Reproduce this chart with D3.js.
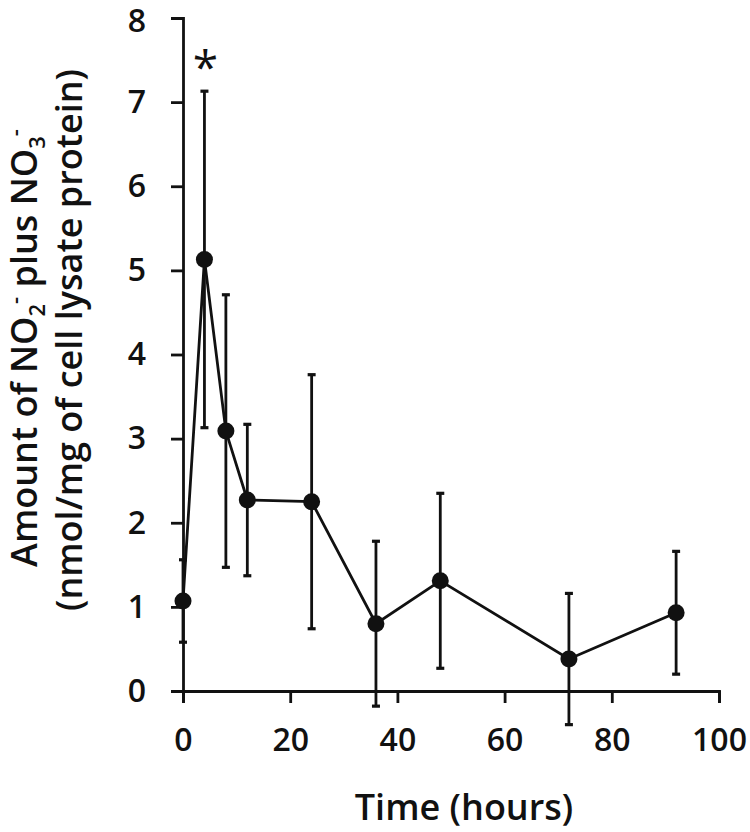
<!DOCTYPE html>
<html>
<head>
<meta charset="utf-8">
<script src="https://cdn.jsdelivr.net/npm/d3@7"></script>
<style>
  body { margin: 0; background: #fff; }
  svg text { font-family: "Open Sans", sans-serif; font-weight: 600; fill: #111; }
</style>
</head>
<body>
<div id="viz"></div>
<script>
// data
var times = [0, 4, 8, 12, 24, 36, 48, 72, 92];
var means = [1.07, 5.13, 3.09, 2.27, 2.25, 0.80, 1.31, 0.38, 0.93];
var errs  = [0.49, 2.00, 1.62, 0.90, 1.51, 0.98, 1.04, 0.78, 0.73];
var xTicks = [0, 20, 40, 60, 80, 100];
var yTicks = [0, 1, 2, 3, 4, 5, 6, 7, 8];
var starAt = [4];

var width = 750,
    height = 832;

var margin = {top: 18, left: 183, right: 31, bottom: 141};

var svg = d3.select('#viz').append('svg')
  .attr("width", width)
  .attr("height", height)

var x = d3.scaleLinear()
  .domain([0, 100])
  .range([margin.left, width - margin.right])

var y = d3.scaleLinear()
  .domain([0, 8])
  .range([height - margin.bottom, margin.top])

var data = times.map(function(t, i){
  return {t: t, v: means[i], e: errs[i]};
})

// axes
var xAxis = svg.append('g')
  .attr("transform", "translate(0," + y(0) + ")")
  .call(d3.axisBottom(x).tickValues(xTicks).tickSize(12).tickPadding(25))

var yAxis = svg.append('g')
  .attr("transform", "translate(" + x(0) + ",0)")
  .call(d3.axisLeft(y).tickValues(yTicks).tickSize(12).tickPadding(25))

svg.selectAll('.domain, .tick line')
  .attr('stroke', '#111')
  .attr('stroke-width', 2.8)

svg.selectAll('.tick text')
  .attr('font-size', 32)
  .attr('fill', '#111')
  .style('font-family', '"Open Sans", sans-serif')
  .style('font-weight', 600)

// top label sits right at the edge in the original
yAxis.selectAll('.tick text').filter(function(d){ return d == 8 }).attr('dy', '0.42em')

// line
var line = d3.line()
  .x(function(d){ return x(d.t) })
  .y(function(d){ return y(d.v) })

svg.append('path')
  .datum(data)
  .attr('d', line)
  .attr('fill', 'none')
  .attr('stroke', '#111')
  .attr('stroke-width', 2.8)

// error bars
var bars = svg.append('g').selectAll('.err')
  .data(data)
  .enter()
  .append('g')
  .attr('class', 'err')

bars.append('line')
  .attr('x1', function(d){ return x(d.t) })
  .attr('x2', function(d){ return x(d.t) })
  .attr('y1', function(d){ return y(d.v - d.e) })
  .attr('y2', function(d){ return y(d.v + d.e) })
  .attr('stroke', '#111')
  .attr('stroke-width', 2.8)

bars.selectAll('.cap')
  .data(function(d){ return [d.v - d.e, d.v + d.e].map(function(v){ return {t: d.t, v: v} }) })
  .enter()
  .append('line')
  .attr('class', 'cap')
  .attr('x1', function(d){ return x(d.t) - 4 })
  .attr('x2', function(d){ return x(d.t) + 4 })
  .attr('y1', function(d){ return y(d.v) })
  .attr('y2', function(d){ return y(d.v) })
  .attr('stroke', '#111')
  .attr('stroke-width', 3.2)

// points
svg.append('g').selectAll('.points')
  .data(data)
  .enter()
  .append('circle')
  .attr('class', 'points')
  .attr('cx', function(d){ return x(d.t) })
  .attr('cy', function(d){ return y(d.v) })
  .attr('r', 8.5)
  .attr('fill', '#111')

// significance star
svg.selectAll('.star')
  .data(starAt)
  .enter()
  .append('text')
  .attr('class', 'star')
  .attr('x', function(d){ return x(d) + 1 })
  .attr('y', 84)
  .attr('text-anchor', 'middle')
  .attr('font-size', 46)
  .style('font-weight', 400)
  .text('*')

// axis titles
svg.append('text')
  .attr('x', 464)
  .attr('y', 820)
  .attr('text-anchor', 'middle')
  .attr('font-size', 36)
  .text('Time (hours)')

var t1 = svg.append('text')
  .attr('transform', 'translate(37,348) rotate(-90)')
  .attr('text-anchor', 'middle')
  .attr('font-size', 36)

t1.append('tspan').text('Amount of NO')
t1.append('tspan').attr('font-size', 22).attr('dy', 8).text('2')
t1.append('tspan').attr('font-size', 22).attr('dy', -22).text('-')
t1.append('tspan').attr('dy', 14).text(' plus NO')
t1.append('tspan').attr('font-size', 22).attr('dy', 8).text('3')
t1.append('tspan').attr('font-size', 22).attr('dy', -22).text('-')

svg.append('text')
  .attr('transform', 'translate(82,340) rotate(-90)')
  .attr('text-anchor', 'middle')
  .attr('font-size', 36)
  .text('(nmol/mg of cell lysate protein)')
</script>
</body>
</html>
